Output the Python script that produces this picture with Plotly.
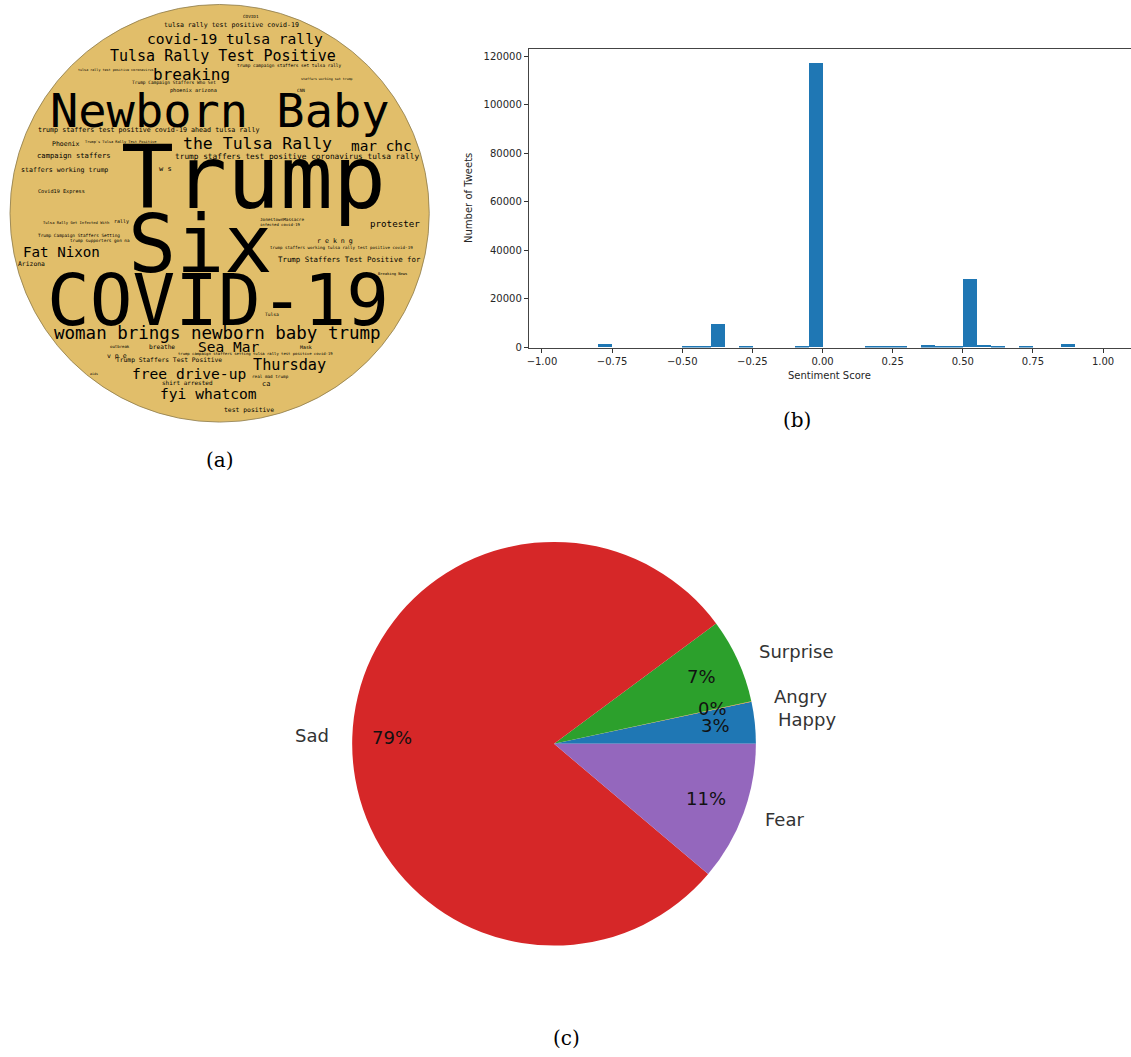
import math
import plotly.graph_objects as go

W, H = 1131, 1057

# ---------------- data ----------------
# (a) word cloud words
cloud_words = [
    "Trump", "Six", "COVID-19", "Newborn Baby",
    "woman brings newborn baby trump", "the Tulsa Rally", "breaking",
    "Tulsa Rally Test Positive", "Thursday", "covid-19 tulsa rally",
    "free drive-up", "fyi whatcom", "Sea Mar", "mar chc", "Fat Nixon",
    "protester", "trump staffers test positive coronavirus tulsa rally",
    "Trump Staffers Test Positive for", "campaign staffers",
    "trump staffers test positive covid-19 ahead tulsa rally", "w s",
    "ca", "staffers working trump", "r e k n g", "Phoenix", "Arizona",
    "tulsa rally test positive covid-19", "test positive",
    "Trump Staffers Test Positive", "v p e", "breathe", "shirt arrested",
    "Covid19 Express", "phoenix arizona", "rally", "Mask", "Tulsa",
    "Trump Campaign Staffers Who Set", "trump campaign staffers set tulsa rally",
    "Trump Campaign Staffers Setting", "JonestownMassacre", "CNN",
    "trump supporters gon na", "real mad trump", "COVID1",
    "trump staffers working tulsa rally test positive covid-19", "outbreak",
    "infected covid-19", "Tulsa Rally Get Infected With",
    "trump campaign staffers setting tulsa rally test positive covid-19",
    "Breaking News", "Trump's Tulsa Rally Test Positive",
    "tulsa rally test positive coronavirus", "staffers working set trump",
    "aids",
]

# (b) histogram of sentiment scores: 40 bins of width 0.05 from -1 to 1
bin_start = -1.0
bin_width = 0.05
tweet_counts = [
    0, 0, 0, 0, 1400, 0, 0, 0, 0, 0,
    350, 350, 9600, 0, 400, 0, 0, 0, 300, 117000,
    0, 0, 0, 300, 300, 300, 0, 800, 300, 300,
    28100, 1100, 400, 0, 300, 0, 0, 1200, 0, 0,
]
x_ticks = [-1.0, -0.75, -0.5, -0.25, 0.0, 0.25, 0.5, 0.75, 1.0]
y_ticks = [0, 20000, 40000, 60000, 80000, 100000, 120000]

# (c) emotion pie
emotions = ["Happy", "Angry", "Surprise", "Sad", "Fear"]
emotion_share = [3.33, 0.05, 6.78, 78.67, 11.17]
emotion_colors = ["#1f77b4", "#ff7f0e", "#2ca02c", "#d62728", "#9467bd"]

# ---------------- word cloud placement (pixel centre x, centre y, font px) ----
cloud_layout = [
    (252, 177, 88), (199, 244, 80), (216, 300, 71), (218, 109, 47),
    (216, 333, 17.5), (255.5, 142, 16.5), (190, 73, 16),
    (221, 54, 15), (288, 365, 15.2), (233, 37, 14.6),
    (187, 374, 14.6), (207, 394, 14.6), (227, 347, 14.5), (380, 145, 14.4), (59.5, 251, 14.2),
    (394, 223, 9.2), (296, 155, 7.8),
    (348, 259, 7.4), (72, 154, 7.2),
    (147, 129, 6.7), (164, 167.5, 7),
    (264, 384, 6.9), (63, 169, 6.6), (334, 240, 6.6), (63.3, 142.5, 6.5), (29.2, 264, 6.4),
    (230, 23.5, 6.6), (247, 410.7, 6.4),
    (167, 360.3, 6.3), (115.5, 355.8, 6.5), (160.5, 346, 6.2), (186, 383, 6.0),
    (59.3, 190.5, 5.2), (191.7, 89, 5.2), (120, 220.5, 5.0), (305, 347.3, 4.9), (270.7, 314, 4.6),
    (172, 80.5, 4.5), (287.8, 63.5, 4.45),
    (77.5, 234.7, 4.4), (280.3, 219, 4.3), (299.5, 88.7, 4.4),
    (97.8, 240.3, 4.3), (268.7, 376.3, 4.3), (249, 15, 4.3),
    (340.5, 246.5, 4.16), (117.8, 346.5, 4.0),
    (278.3, 224, 3.9), (73.7, 221.7, 3.8),
    (253.7, 353.5, 3.9),
    (391.2, 273.5, 3.75), (118.5, 140.7, 3.6),
    (114.7, 68.3, 3.4), (325.5, 77.5, 3.3),
    (92, 373.8, 3.3),
]

TXT_DY = 2.0  # small downward nudge for text anchored at its middle


def px(x):
    return x / W


def py(y):
    return 1 - y / H


def ty(y):
    return 1 - (y + TXT_DY) / H


fig = go.Figure()

# ---------------- (b) histogram ----------------
centers = [bin_start + bin_width * (i + 0.5) for i in range(len(tweet_counts))]
fig.add_trace(go.Bar(
    x=centers, y=tweet_counts, width=bin_width,
    marker=dict(color="#1f77b4", line=dict(width=0)),
    xaxis="x", yaxis="y", showlegend=False, hoverinfo="x+y",
))

axis_font = dict(family="DejaVu Sans", size=10, color="#262626")
fig.update_layout(
    xaxis=dict(
        domain=[px(527.7), 1.0], range=[-1.047, 1.0996],
        tickvals=x_ticks, tickformat=".2f", ticks="outside", ticklen=4,
        tickcolor="#333", tickwidth=1, showline=True, linecolor="#444",
        linewidth=1, mirror=True, showgrid=False, zeroline=False,
        tickfont=axis_font, anchor="y",
    ),
    yaxis=dict(
        domain=[py(349.5), py(49.5)], range=[0, 122850],
        tickvals=y_ticks, tickformat="d", ticks="outside", ticklen=4,
        tickcolor="#333", tickwidth=1, showline=True, linecolor="#444",
        linewidth=1, mirror=False, showgrid=False, zeroline=False,
        tickfont=axis_font, anchor="x",
    ),
    bargap=0,
)

# ---------------- (c) pie ----------------
cxp, cyp, R = 553, 745, 203
pie_cy = 748  # disc centre in page pixels
total = sum(emotion_share)
# plotly's counterclockwise pies put the first slice's leading edge at `rotation`;
# matplotlib starts the first slice at 3 o'clock
start_rotation = 90 - 360 * emotion_share[0] / total
fig.add_trace(go.Pie(
    labels=emotions, values=emotion_share, sort=False,
    direction="counterclockwise", rotation=start_rotation,
    marker=dict(colors=emotion_colors, line=dict(width=0)),
    textinfo="none", showlegend=False,
    domain=dict(x=[px(cxp - R), px(cxp + R)], y=[py(pie_cy + R), py(pie_cy - R)]),
))

annotations = []
cum = 0.0
for lab, val in zip(emotions, emotion_share):
    mid = (cum + val / 2) / total * 2 * math.pi
    cum += val
    c, s = math.cos(mid), math.sin(mid)
    annotations.append(dict(
        x=px(cxp + 0.8 * R * c), y=ty(cyp - 0.8 * R * s), xref="paper", yref="paper",
        text=f"{val / total * 100:.0f}%", showarrow=False,
        xanchor="center", yanchor="middle",
        font=dict(family="DejaVu Sans", size=18, color="#111"),
    ))
    annotations.append(dict(
        x=px(cxp + 1.1 * R * c), y=ty(cyp - 1.1 * R * s), xref="paper", yref="paper",
        text=lab, showarrow=False,
        xanchor="left" if c > 0 else "right", yanchor="middle",
        font=dict(family="DejaVu Sans", size=18, color="#333"),
    ))

# ---------------- (a) word cloud ----------------
shapes = [dict(
    type="circle", xref="paper", yref="paper",
    x0=px(8), x1=px(428), y0=py(424.5), y1=py(4.5),
    fillcolor="#E1BE6A", line=dict(color="#8c7a4a", width=0.8), layer="below",
)]
for word, (wx, wy, fs) in zip(cloud_words, cloud_layout):
    annotations.append(dict(
        x=px(wx), y=ty(wy), xref="paper", yref="paper", text=word,
        showarrow=False, xanchor="center", yanchor="middle", borderpad=0,
        font=dict(family="DejaVu Sans Mono", size=fs, color="black"),
    ))

# axis titles for (b)
annotations.append(dict(
    x=px(468), y=py(198.9), xref="paper", yref="paper", text="Number of Tweets",
    textangle=-90, showarrow=False, xanchor="center", yanchor="middle",
    font=axis_font,
))
annotations.append(dict(
    x=px(829), y=ty(376), xref="paper", yref="paper", text="Sentiment Score",
    showarrow=False, xanchor="center", yanchor="middle", font=axis_font,
))

# captions
cap_font = dict(family="DejaVu Serif", size=20, color="black")
for txt, (cx_, cy_) in zip(["(a)", "(b)", "(c)"], [(218, 461), (796, 420), (565, 1042)]):
    annotations.append(dict(
        x=px(cx_), y=ty(cy_), xref="paper", yref="paper", text=txt,
        showarrow=False, xanchor="center", yanchor="middle", font=cap_font,
    ))

fig.update_layout(
    width=W, height=H, margin=dict(l=0, r=0, t=0, b=0),
    paper_bgcolor="white", plot_bgcolor="white",
    annotations=annotations, shapes=shapes,
)

fig.write_html("out.html")
